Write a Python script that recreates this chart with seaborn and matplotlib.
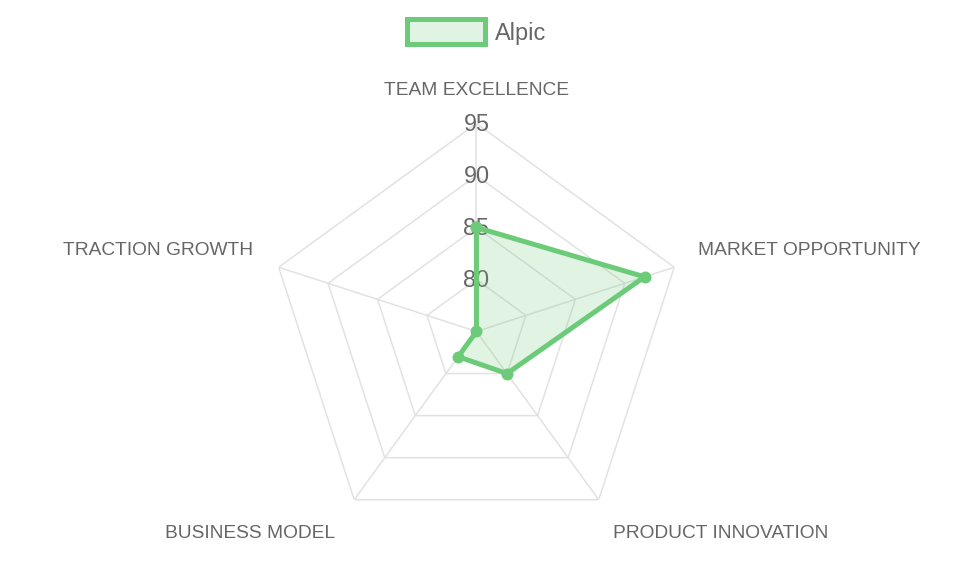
import numpy as np
import pandas as pd
import seaborn as sns
import matplotlib.pyplot as plt
from matplotlib.patches import Patch

categories = ["TEAM EXCELLENCE", "MARKET OPPORTUNITY", "PRODUCT INNOVATION",
              "BUSINESS MODEL", "TRACTION GROWTH"]
scores = [85, 92, 80, 78, 75]
series_name = "Alpic"
tick_values = [80, 85, 90, 95]
r_min, r_max = 75, 95

line_color = "#6ccb78"
fill_rgba = (0.424, 0.796, 0.471, 0.2)
grid_color = "#e2e2e2"
text_color = "#666666"

sns.set_theme(style="white")
plt.rcParams['font.family'] = ['Liberation Sans', 'DejaVu Sans']

n = len(categories)
angles = np.linspace(0, 2 * np.pi, n, endpoint=False)
closed_angles = np.append(angles, angles[0])
closed_scores = scores + scores[:1]
df = pd.DataFrame({"angle": closed_angles, "score": closed_scores})

fig = plt.figure(figsize=(9.55, 5.73), dpi=100)
ax = fig.add_axes([0.2811, 0.0585, 0.4356, 0.7260], projection="polar")
ax.set_theta_offset(np.pi / 2)
ax.set_theta_direction(-1)
ax.set_ylim(r_min, r_max)
ax.set_xticks([])
ax.set_yticks([])
ax.grid(False)
ax.spines["polar"].set_visible(False)

# pentagon grid and spokes
for t in tick_values:
    ax.plot(closed_angles, [t] * len(closed_angles), color=grid_color, lw=1.1, zorder=1)
for a in angles:
    ax.plot([a, a], [r_min, r_max], color=grid_color, lw=1.1, zorder=1)

# tick labels up the top spoke
for t in tick_values:
    ax.annotate(str(t), xy=(0, t), xytext=(0, -1.5), textcoords="offset pixels",
                ha="center", va="center", fontsize=16.8, color=text_color,
                zorder=2, annotation_clip=False)

# data
ax.fill(closed_angles, closed_scores, color=fill_rgba, zorder=3)
sns.lineplot(data=df, x="angle", y="score", sort=False, estimator=None, ax=ax,
             color=line_color, lw=3.6, marker="o", markersize=8.6,
             markeredgewidth=0, zorder=4, legend=False)
ax.set_xlabel("")
ax.set_ylabel("")

# category labels
offsets = [(0, 35, "center"), (24, 19, "left"), (14, -32, "left"),
           (-19, -32, "right"), (-26, 19, "right")]
for a, lab, (dx, dy, ha) in zip(angles, categories, offsets):
    ax.annotate(lab, xy=(a, r_max), xytext=(dx, dy), textcoords="offset pixels",
                ha=ha, va="center_baseline", fontsize=13.75, color=text_color,
                annotation_clip=False)

handle = Patch(facecolor=fill_rgba, edgecolor=line_color, linewidth=3.6)
fig.legend([handle], [series_name], loc="center",
           bbox_to_anchor=(477 / 955, 1 - 32 / 573), frameon=False,
           fontsize=16.9, handlelength=3.3, handleheight=1.25,
           handletextpad=0.45, labelcolor=text_color)

fig.savefig("out.png", dpi=100)
